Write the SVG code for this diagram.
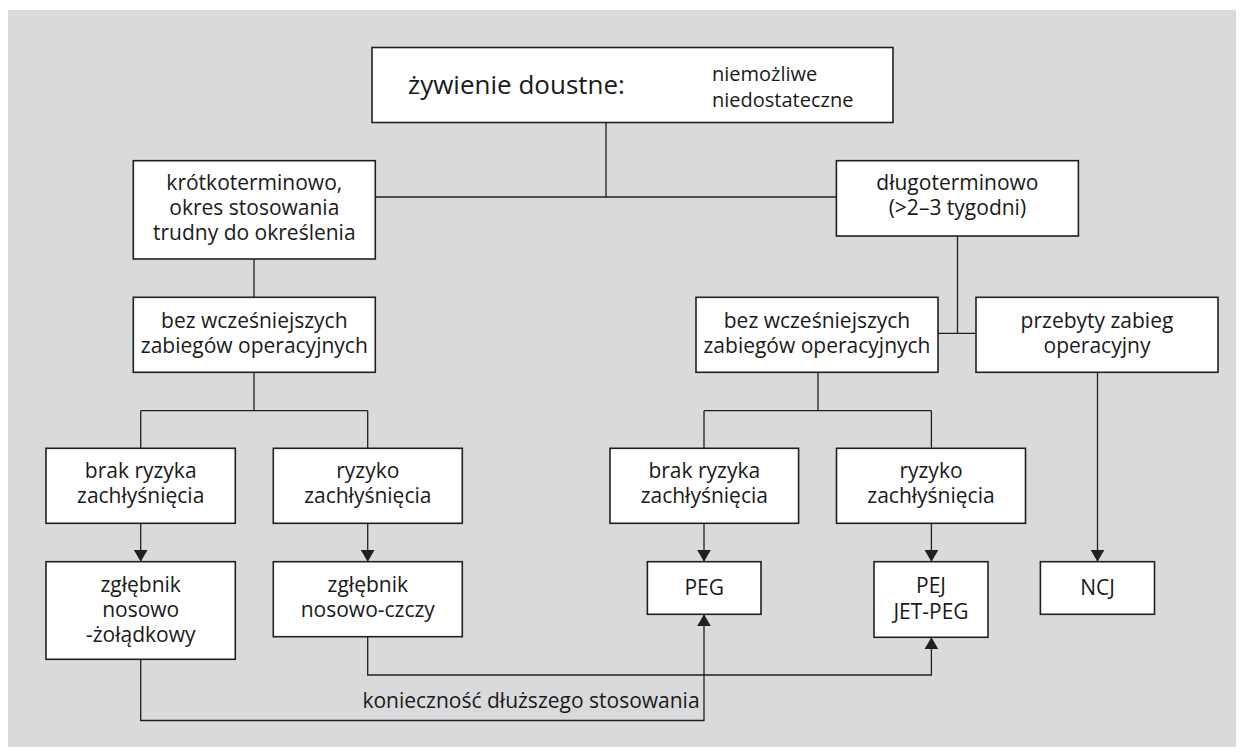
<svg xmlns="http://www.w3.org/2000/svg" width="1244" height="754" viewBox="0 0 1244 754">
<defs>
<style>
.bg{fill:#d9dadc}
.box{fill:#ffffff;stroke:#231f20;stroke-width:1.6}
.ln{fill:none;stroke:#231f20;stroke-width:1.3}
text{font-family:"Open Sans","Noto Sans","Liberation Sans",sans-serif;font-size:21px;fill:#1a1a1a;text-anchor:middle}
.big{font-size:26px;text-anchor:start}
.mid{font-size:20px;text-anchor:start}
</style>
<marker id="arr" markerWidth="14" markerHeight="14" refX="12" refY="7" orient="auto" markerUnits="userSpaceOnUse">
<path d="M0,0 L12,7 L0,14 z" fill="#231f20"/>
</marker>
</defs>
<rect x="0" y="0" width="1244" height="754" fill="#ffffff"/>
<rect class="bg" x="8" y="10" width="1228" height="737"/>

<g id="connectors">
<path class="ln" d="M606,122 V197 M375,197 H837"/>
<path class="ln" d="M254,259 V297"/>
<path class="ln" d="M254,372 V410.7 M140.7,410.7 H367.7 M140.7,410.7 V448.3 M367.7,410.7 V448.3"/>
<path class="ln" d="M140.7,523.3 V561.7" marker-end="url(#arr)"/>
<path class="ln" d="M367.7,523.3 V561.7" marker-end="url(#arr)"/>
<path class="ln" d="M957.5,236 V333.3 M938,333.3 H976"/>
<path class="ln" d="M818,372.3 V410.7 M704,410.7 H931.4 M704,410.7 V448.3 M931.4,410.7 V448.3"/>
<path class="ln" d="M704,523.3 V561.7" marker-end="url(#arr)"/>
<path class="ln" d="M931.4,523.3 V561.7" marker-end="url(#arr)"/>
<path class="ln" d="M1097.5,372.3 V561.7" marker-end="url(#arr)"/>
<path class="ln" d="M367.7,636.7 V675 H931.4 V637.3" marker-end="url(#arr)"/>
<path class="ln" d="M140.7,659.3 V720.5 H704 V614.3" marker-end="url(#arr)"/>
<text x="531" y="708">konieczność dłuższego stosowania</text>
</g>

<g id="top">
<rect class="box" x="372" y="47.5" width="521" height="75"/>
<text class="big" x="408" y="94">żywienie doustne:</text>
<text class="mid" x="712" y="80.7">niemożliwe</text>
<text class="mid" x="712" y="107">niedostateczne</text>
</g>

<g id="krotko">
<rect class="box" x="133.3" y="160.7" width="242" height="98.3"/>
<text x="254.3" y="190">krótkoterminowo,</text>
<text x="254.3" y="215">okres stosowania</text>
<text x="254.3" y="240">trudny do określenia</text>
</g>

<g id="dlugo">
<rect class="box" x="836.4" y="160.7" width="242" height="75.3"/>
<text x="957.4" y="190">długoterminowo</text>
<text x="957.4" y="215">(&gt;2–3 tygodni)</text>
</g>

<g id="bez-left">
<rect class="box" x="133.3" y="297.3" width="242" height="75"/>
<text x="254.3" y="328">bez wcześniejszych</text>
<text x="254.3" y="353">zabiegów operacyjnych</text>
</g>

<g id="bez-right">
<rect class="box" x="696" y="297.3" width="242" height="75"/>
<text x="817" y="328">bez wcześniejszych</text>
<text x="817" y="353">zabiegów operacyjnych</text>
</g>

<g id="przebyty">
<rect class="box" x="976" y="297.3" width="242" height="75"/>
<text x="1097" y="328">przebyty zabieg</text>
<text x="1097" y="353">operacyjny</text>
</g>

<g id="brak-left">
<rect class="box" x="46" y="448.3" width="189.3" height="75"/>
<text x="140.7" y="478">brak ryzyka</text>
<text x="140.7" y="503">zachłyśnięcia</text>
</g>

<g id="ryzyko-left">
<rect class="box" x="273.3" y="448.3" width="189" height="75"/>
<text x="367.8" y="478">ryzyko</text>
<text x="367.8" y="503">zachłyśnięcia</text>
</g>

<g id="brak-right">
<rect class="box" x="610" y="448.3" width="188.6" height="75"/>
<text x="704.3" y="478">brak ryzyka</text>
<text x="704.3" y="503">zachłyśnięcia</text>
</g>

<g id="ryzyko-right">
<rect class="box" x="836.5" y="448.3" width="189" height="75"/>
<text x="931" y="478">ryzyko</text>
<text x="931" y="503">zachłyśnięcia</text>
</g>

<g id="zgl-zoladkowy">
<rect class="box" x="46" y="561.7" width="189.3" height="97.6"/>
<text x="140.7" y="591.7">zgłębnik</text>
<text x="140.7" y="616.7">nosowo</text>
<text x="140.7" y="641.7">-żołądkowy</text>
</g>

<g id="zgl-czczy">
<rect class="box" x="273.3" y="561.7" width="189" height="75"/>
<text x="367.8" y="591.7">zgłębnik</text>
<text x="367.8" y="616.7">nosowo-czczy</text>
</g>

<g id="peg">
<rect class="box" x="647.4" y="561.7" width="113.6" height="52.6"/>
<text x="704.2" y="595">PEG</text>
</g>

<g id="pej">
<rect class="box" x="874" y="561.7" width="114" height="75.6"/>
<text x="931" y="593.3">PEJ</text>
<text x="931" y="619.3">JET-PEG</text>
</g>

<g id="ncj">
<rect class="box" x="1040.4" y="561.7" width="114.1" height="52.6"/>
<text x="1097.5" y="595">NCJ</text>
</g>
</svg>
